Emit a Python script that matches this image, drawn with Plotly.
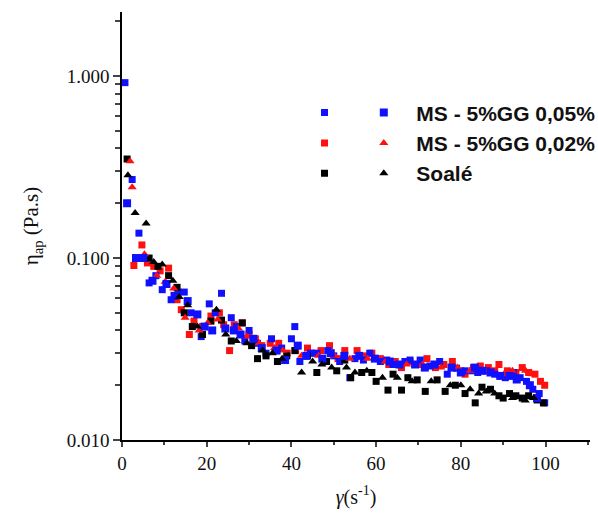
import plotly.graph_objects as go

# ---- data: shear rate (1/s) and apparent viscosity (Pa.s) ----
series_names = ["MS - 5%GG 0,05%", "MS - 5%GG 0,02%", "Soalé"]

ms005_run1_x = [0.7, 2.4, 4.0, 6.4, 8.0, 9.5, 11.6, 13.2, 14.7, 16.3, 18.7, 20.6, 22.0, 23.5, 25.8, 27.0, 29.0, 30.0, 32.0, 34.0,
                35.3, 37.7, 40.0, 40.8, 42.0, 44.5, 46.0, 48.6, 50.0, 51.4, 53.8, 55.0, 57.0, 58.5, 61.0, 62.5, 64.0, 66.8, 68.0, 70.4,
                72.7, 75.0, 76.8, 79.0, 81.0, 82.7, 84.0, 86.0, 88.0, 90.5, 92.4, 94.0, 95.5, 97.0, 98.5, 99.8]
ms005_run1_y = [0.92, 0.27, 0.137, 0.073, 0.080, 0.067, 0.059, 0.065, 0.065, 0.050, 0.037, 0.056, 0.050, 0.064, 0.047, 0.042, 0.035, 0.040, 0.034, 0.030,
                0.036, 0.032, 0.036, 0.042, 0.027, 0.030, 0.030, 0.031, 0.029, 0.027, 0.022, 0.028, 0.0275, 0.030, 0.027, 0.0275, 0.026, 0.027, 0.0275, 0.0275,
                0.0255, 0.027, 0.023, 0.0248, 0.024, 0.024, 0.0235, 0.024, 0.023, 0.022, 0.0235, 0.022, 0.021, 0.019, 0.018, 0.016]
ms005_run2_x = [1.2, 3.3, 5.0, 7.2, 10.5, 12.4, 15.5, 17.8, 19.5, 21.3, 24.4, 26.4, 28.0, 31.0, 33.0, 36.5, 38.5, 41.5, 43.5, 47.3,
                49.3, 52.5, 56.0, 59.7, 63.2, 65.5, 69.2, 71.5, 73.8, 77.8, 80.0, 83.3, 85.0, 87.0, 89.3, 91.5, 93.2, 96.3, 98.0]
ms005_run2_y = [0.20, 0.10, 0.10, 0.075, 0.072, 0.062, 0.058, 0.049, 0.042, 0.040, 0.041, 0.040, 0.038, 0.036, 0.032, 0.031, 0.0275, 0.033, 0.029, 0.028,
                0.030, 0.029, 0.029, 0.028, 0.027, 0.026, 0.026, 0.025, 0.026, 0.025, 0.0235, 0.025, 0.024, 0.0235, 0.0225, 0.0225, 0.0215, 0.020, 0.017]

ms002_run1_x = [2.8, 4.7, 6.0, 7.5, 9.0, 11.0, 13.0, 14.0, 15.9, 17.0, 19.0, 21.0, 23.0, 24.0, 25.4, 26.5, 28.4, 30.0, 31.5, 33.0,
                35.0, 37.0, 39.0, 41.0, 43.8, 45.0, 47.0, 49.0, 51.0, 52.6, 55.5, 57.0, 59.0, 61.0, 63.0, 64.5, 66.0, 68.0, 70.0, 72.0,
                74.0, 76.0, 78.0, 80.0, 81.0, 83.0, 84.6, 86.5, 88.0, 89.0, 91.0, 93.0, 94.5, 96.0, 97.5, 98.8, 99.8]
ms002_run1_y = [0.091, 0.118, 0.094, 0.090, 0.085, 0.088, 0.059, 0.052, 0.038, 0.045, 0.042, 0.048, 0.050, 0.043, 0.031, 0.043, 0.044, 0.038, 0.036, 0.033,
                0.034, 0.034, 0.030, 0.031, 0.032, 0.030, 0.031, 0.033, 0.028, 0.031, 0.031, 0.029, 0.030, 0.028, 0.026, 0.027, 0.025, 0.027, 0.026, 0.028,
                0.025, 0.026, 0.027, 0.024, 0.023, 0.025, 0.0255, 0.025, 0.024, 0.026, 0.024, 0.0235, 0.025, 0.0235, 0.023, 0.021, 0.020]
ms002_run2_x = [1.9, 2.4, 5.3, 8.2, 10.2, 12.2, 14.9, 18.2, 20.2, 22.6, 27.5, 29.4, 32.4, 36.0, 38.0, 42.4, 46.4, 50.2, 53.8, 58.0,
                62.2, 67.2, 71.0, 75.3, 79.2, 82.2, 85.8, 90.2, 92.2, 95.3, 97.0]
ms002_run2_y = [0.34, 0.245, 0.105, 0.080, 0.074, 0.068, 0.047, 0.040, 0.044, 0.046, 0.041, 0.037, 0.034, 0.032, 0.031, 0.029, 0.029, 0.029, 0.028, 0.028,
                0.027, 0.026, 0.026, 0.025, 0.025, 0.024, 0.024, 0.023, 0.024, 0.024, 0.023]

soale_run1_x = [1.2, 6.4, 8.5, 11.0, 13.0, 14.7, 16.6, 19.0, 21.0, 23.5, 25.8, 28.4, 30.6, 32.0, 34.0, 36.7, 38.9, 40.8, 43.8, 46.0,
                48.3, 50.7, 52.6, 54.0, 56.6, 59.0, 60.0, 62.8, 64.0, 66.0, 67.5, 69.7, 71.6, 74.4, 76.3, 78.7, 81.0, 83.4, 85.0, 87.0,
                89.0, 90.0, 91.5, 93.0, 94.5, 96.0, 98.0, 99.5]
soale_run1_y = [0.35, 0.10, 0.090, 0.080, 0.069, 0.050, 0.042, 0.038, 0.045, 0.0456, 0.035, 0.044, 0.033, 0.028, 0.029, 0.027, 0.029, 0.031, 0.029, 0.0235,
                0.027, 0.024, 0.0275, 0.022, 0.0235, 0.0235, 0.021, 0.0188, 0.023, 0.0188, 0.022, 0.0214, 0.0185, 0.0214, 0.0185, 0.020, 0.018, 0.016, 0.0195, 0.019,
                0.0175, 0.017, 0.018, 0.0175, 0.017, 0.0175, 0.0166, 0.016]
soale_run2_x = [1.4, 3.1, 5.7, 7.5, 9.5, 12.0, 13.5, 15.5, 17.8, 22.3, 24.5, 27.0, 29.5, 33.2, 35.5, 37.8, 42.4, 45.0, 47.2, 49.5,
                53.0, 55.0, 57.8, 61.5, 65.0, 68.5, 73.0, 77.5, 80.0, 82.2, 84.2, 86.0, 88.0, 92.2, 95.2, 97.2]
soale_run2_y = [0.285, 0.177, 0.155, 0.095, 0.092, 0.075, 0.061, 0.055, 0.042, 0.052, 0.038, 0.035, 0.034, 0.031, 0.030, 0.028, 0.0235, 0.027, 0.026, 0.025,
                0.025, 0.0235, 0.024, 0.022, 0.022, 0.021, 0.021, 0.020, 0.020, 0.019, 0.018, 0.0185, 0.018, 0.017, 0.0165, 0.017]

y_tickvals = [0.01, 0.1, 1.0]
y_ticktext = ["0.010", "0.100", "1.000"]
y_minor_tickvals = [0.02, 0.03, 0.04, 0.05, 0.06, 0.07, 0.08, 0.09,
                    0.2, 0.3, 0.4, 0.5, 0.6, 0.7, 0.8, 0.9, 2.0]
x_tickvals = [0, 20, 40, 60, 80, 100]

# ---- figure ----
colors = ["#1010ff", "#ff1010", "#000000"]
run1 = [(ms005_run1_x, ms005_run1_y), (ms002_run1_x, ms002_run1_y), (soale_run1_x, soale_run1_y)]
run2 = [(ms005_run2_x, ms005_run2_y), (ms002_run2_x, ms002_run2_y), (soale_run2_x, soale_run2_y)]
sym2 = ["square", "triangle-up", "triangle-up"]

fig = go.Figure()
draw_order = [1, 0, 2]
for i in draw_order:
    fig.add_trace(go.Scatter(
        x=run1[i][0], y=run1[i][1], mode="markers", name=" ",
        marker=dict(symbol="square", size=7, color=colors[i], line=dict(width=0)),
        legend="legend", legendrank=i + 1, legendgroup="a%d" % i))
for i in draw_order:
    fig.add_trace(go.Scatter(
        x=run2[i][0], y=run2[i][1], mode="markers", name=series_names[i],
        marker=dict(symbol=sym2[i], size=8, color=colors[i], line=dict(width=0)),
        legend="legend2", legendrank=i + 1, legendgroup="b%d" % i))

serif = "Liberation Serif, Times New Roman, serif"
tick_font = dict(family=serif, size=19, color="#111")
leg_font = dict(family="Liberation Sans, Arial, sans-serif", size=21, color="#111", weight="bold")

fig.update_layout(
    width=598, height=521,
    margin=dict(l=122, r=8, t=12, b=81, autoexpand=False),
    paper_bgcolor="white", plot_bgcolor="white",
    showlegend=True,
    legend=dict(x=0.39, y=0.812, xanchor="left", yanchor="top", font=leg_font,
                bgcolor="rgba(0,0,0,0)", tracegroupgap=0, itemwidth=30),
    legend2=dict(x=0.49, y=0.812, xanchor="left", yanchor="top", font=leg_font,
                 bgcolor="rgba(0,0,0,0)", tracegroupgap=0, itemwidth=55),
    xaxis=dict(range=[0, 110.5], tickvals=x_tickvals, ticks="outside", ticklen=5, tickwidth=1.5,
               showline=True, linecolor="black", linewidth=1.5, showgrid=False, zeroline=False,
               tickfont=tick_font,
               minor=dict(dtick=10, ticks="outside", ticklen=3, tickwidth=1.5),
               title=dict(text="<i>γ</i>(s<sup>-1</sup>)", font=dict(family=serif, size=20, color="#111"), standoff=17)),
    yaxis=dict(type="log", range=[-2, 0.352], tickvals=y_tickvals, ticktext=y_ticktext,
               ticks="outside", ticklen=7, tickwidth=1.5,
               showline=True, linecolor="black", linewidth=1.5, showgrid=False, zeroline=False,
               tickfont=tick_font,
               minor=dict(tickvals=y_minor_tickvals, ticks="outside", ticklen=5, tickwidth=1.5, showgrid=False),
               title=dict(text="η<sub>ap</sub> (Pa.s)", font=dict(family=serif, size=21, color="#111"), standoff=22)),
)

fig.write_html("out.html")
